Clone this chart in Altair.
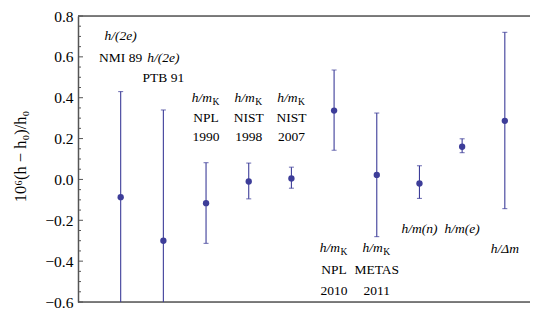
import altair as alt
import pandas as pd

# measurement data (x index, value, lower and upper error limits)
idx = [1, 2, 3, 4, 5, 6, 7, 8, 9, 10]
val = [-0.087, -0.30, -0.116, -0.010, 0.005, 0.337, 0.022, -0.020, 0.160, 0.287]
low = [-0.604, -0.94, -0.313, -0.095, -0.043, 0.143, -0.28, -0.093, 0.131, -0.143]
high = [0.430, 0.340, 0.082, 0.080, 0.060, 0.536, 0.325, 0.067, 0.199, 0.720]

# upright labels
plain_text = ["NMI 89", "PTB 91", "NPL", "NIST", "NIST", "1990", "1998", "2007",
              "NPL", "METAS", "2010", "2011"]
plain_x = [1, 2, 3, 4, 5, 3, 4, 5, 6, 7, 6, 7]
plain_y = [0.595, 0.497, 0.303, 0.303, 0.303, 0.206, 0.206, 0.206,
           -0.442, -0.442, -0.544, -0.544]

# italic labels
ital_text = ["h/(2e)", "h/(2e)", "h/m(n)", "h/m(e)", "h/Δm"]
ital_x = [1, 2, 8, 9, 10]
ital_y = [0.70, 0.595, -0.244, -0.244, -0.34]

# h/m_K labels
hmk_x = [3, 4, 5, 6, 7]
hmk_y = [0.40, 0.40, 0.40, -0.335, -0.335]

major_ticks = [-0.6, -0.4, -0.2, 0.0, 0.2, 0.4, 0.6, 0.8]
minor_ticks = [round(-0.6 + 0.05 * i, 2) for i in range(29) if i % 4 != 0]

FONT = "Liberation Serif"
COL = "#3d3d99"
FRAME = "#555555"
W, H = 452, 286

df = pd.DataFrame({"x": idx, "y": val, "lo": low, "hi": high})
xs = alt.Scale(domain=[0, 10.59], nice=False)
ys = alt.Scale(domain=[-0.6, 0.8], nice=False)

base = alt.Chart(df)

yaxis = alt.Axis(values=major_ticks, ticks=False, grid=False,
                 labelExpr="replace(format(datum.value, '.1f'), '-', '−')",
                 labelFont=FONT, labelFontSize=15.5, labelColor="black", labelPadding=5,
                 domainColor=FRAME, domainWidth=1.5,
                 title="10⁶(h − h₀)/h₀", titleFont=FONT, titleFontSize=16.5,
                 titleFontWeight="normal", titleColor="black",
                 titleX=-58, titleY=140, titleAngle=270, titleBaseline="middle", titleAlign="center")

bars = base.mark_rule(color=COL, strokeWidth=1.1, clip=True).encode(
    x=alt.X("x:Q", scale=xs, axis=None),
    y=alt.Y("lo:Q", scale=ys, axis=yaxis),
    y2="hi:Q",
)
cap_lo = base.mark_tick(color=COL, size=5, thickness=1.1, orient="horizontal", clip=True).encode(
    x=alt.X("x:Q", scale=xs), y=alt.Y("lo:Q", scale=ys))
cap_hi = base.mark_tick(color=COL, size=5, thickness=1.1, orient="horizontal", clip=True).encode(
    x=alt.X("x:Q", scale=xs), y=alt.Y("hi:Q", scale=ys))
pts = base.mark_point(filled=True, color=COL, size=40, opacity=1).encode(
    x=alt.X("x:Q", scale=xs), y=alt.Y("y:Q", scale=ys))

plain_df = pd.DataFrame({"x": plain_x, "y": plain_y, "t": plain_text})
plain = alt.Chart(plain_df).mark_text(font=FONT, fontSize=13.5, color="black",
                                      baseline="middle", align="center").encode(
    x=alt.X("x:Q", scale=xs), y=alt.Y("y:Q", scale=ys), text="t:N")

ital_df = pd.DataFrame({"x": ital_x, "y": ital_y, "t": ital_text})
ital = alt.Chart(ital_df).mark_text(font=FONT, fontSize=13.5, fontStyle="italic", color="black",
                                    baseline="middle", align="center").encode(
    x=alt.X("x:Q", scale=xs), y=alt.Y("y:Q", scale=ys), text="t:N")

hmk_df = pd.DataFrame({"x": hmk_x, "y": hmk_y, "a": ["h/m"] * len(hmk_x), "b": ["K"] * len(hmk_x)})
hm = alt.Chart(hmk_df).mark_text(font=FONT, fontSize=13.5, fontStyle="italic", color="black",
                                 baseline="middle", align="right", dx=6).encode(
    x=alt.X("x:Q", scale=xs), y=alt.Y("y:Q", scale=ys), text="a:N")
kk = alt.Chart(hmk_df).mark_text(font=FONT, fontSize=9.5, color="black",
                                 baseline="middle", align="left", dx=6.5, dy=4).encode(
    x=alt.X("x:Q", scale=xs), y=alt.Y("y:Q", scale=ys), text="b:N")

maj_df = pd.DataFrame({"v": major_ticks})
min_df = pd.DataFrame({"v": minor_ticks})
tick_major = alt.Chart(maj_df).mark_rule(color=FRAME, strokeWidth=1).encode(
    y=alt.Y("v:Q", scale=ys), x=alt.value(0), x2=alt.value(5))
tick_minor = alt.Chart(min_df).mark_rule(color=FRAME, strokeWidth=1).encode(
    y=alt.Y("v:Q", scale=ys), x=alt.value(0), x2=alt.value(3))

frame_df = pd.DataFrame({"v": [0.8, -0.6]})
frame = alt.Chart(frame_df).mark_rule(color=FRAME, strokeWidth=1.5).encode(
    y=alt.Y("v:Q", scale=ys))

chart = alt.layer(tick_minor, tick_major, frame, bars, cap_lo, cap_hi, pts,
                  plain, ital, hm, kk).properties(
    width=W, height=H,
    autosize=alt.AutoSizeParams(type="none"),
    padding={"left": 70, "top": 8, "right": 0, "bottom": 8},
).configure_view(stroke=None).configure(background="white")

chart.save("out.html", embed_options={"renderer": "svg", "actions": False})
